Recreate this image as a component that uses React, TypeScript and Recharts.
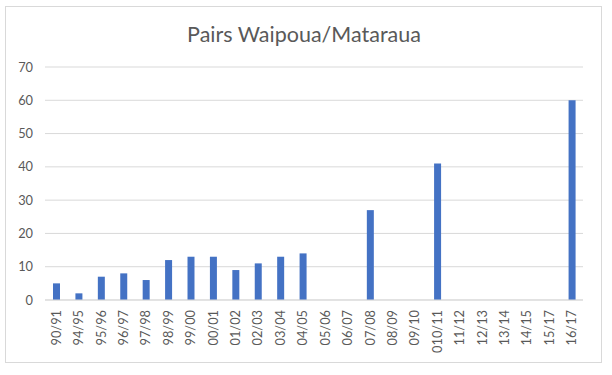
import React from "react";
import { BarChart, Bar, XAxis, YAxis, CartesianGrid } from "recharts";

const seasons = ["90/91","94/95","95/96","96/97","97/98","98/99","99/00","00/01","01/02","02/03","03/04","04/05","05/06","06/07","07/08","08/09","09/10","010/11","11/12","12/13","13/14","14/15","15/17","16/17"];
const pairs: (number | null)[] = [5,2,7,8,6,12,13,13,9,11,13,14,null,null,27,null,null,41,null,null,null,null,null,60];
const yTicks = [0,10,20,30,40,50,60,70];
const title = "Pairs Waipoua/Mataraua";

const data = seasons.map((s, i) => ({ season: s, pairs: pairs[i] }));

const FONT = "Lato, 'Open Sans', sans-serif";

const XTick = (props: any) => {
  const { x, y, payload } = props;
  const ax = x;
  const ay = y + 10;
  return (
    <text
      x={ax}
      y={ay}
      dy="0.35em"
      textAnchor="end"
      transform={`rotate(-90, ${ax}, ${ay})`}
      fill="#595959"
      fontSize={12.8}
      fontFamily={FONT}
    >
      {payload.value}
    </text>
  );
};

export default function App() {
  return (
    <div style={{ position: "absolute", left: 0, top: 0, width: 612, height: 375, background: "#fff" }}>
      <div
        style={{
          position: "absolute",
          left: 5,
          top: 6,
          width: 597,
          height: 357,
          border: "1px solid #d9d9d9",
          boxSizing: "border-box",
        }}
      />
      <div
        style={{
          position: "absolute",
          left: 0,
          width: 612,
          top: 20,
          textAlign: "center",
          fontFamily: FONT,
          fontSize: 21.5,
          color: "#595959",
          lineHeight: "28px",
        }}
      >
        <span style={{ position: "relative", left: -2 }}>{title}</span>
      </div>
      <div style={{ position: "absolute", left: 0, top: 0 }}>
        <BarChart
          width={612}
          height={375}
          data={data}
          margin={{ top: 67, right: 29, left: 0, bottom: 0 }}
        >
          <CartesianGrid vertical={false} stroke="#d9d9d9" strokeWidth={1} />
          <XAxis
            dataKey="season"
            interval={0}
            axisLine={{ stroke: "#d9d9d9" }}
            tickLine={false}
            tickSize={0}
            tickMargin={0}
            height={75}
            tick={<XTick />}
          />
          <YAxis
            domain={[0, 70]}
            ticks={yTicks}
            axisLine={false}
            tickLine={false}
            width={45}
            tickMargin={6}
            tick={{ fill: "#595959", fontSize: 12.8, fontFamily: FONT }}
          />
          <Bar dataKey="pairs" fill="#4472C4" barSize={7} isAnimationActive={false} />
        </BarChart>
      </div>
    </div>
  );
}
